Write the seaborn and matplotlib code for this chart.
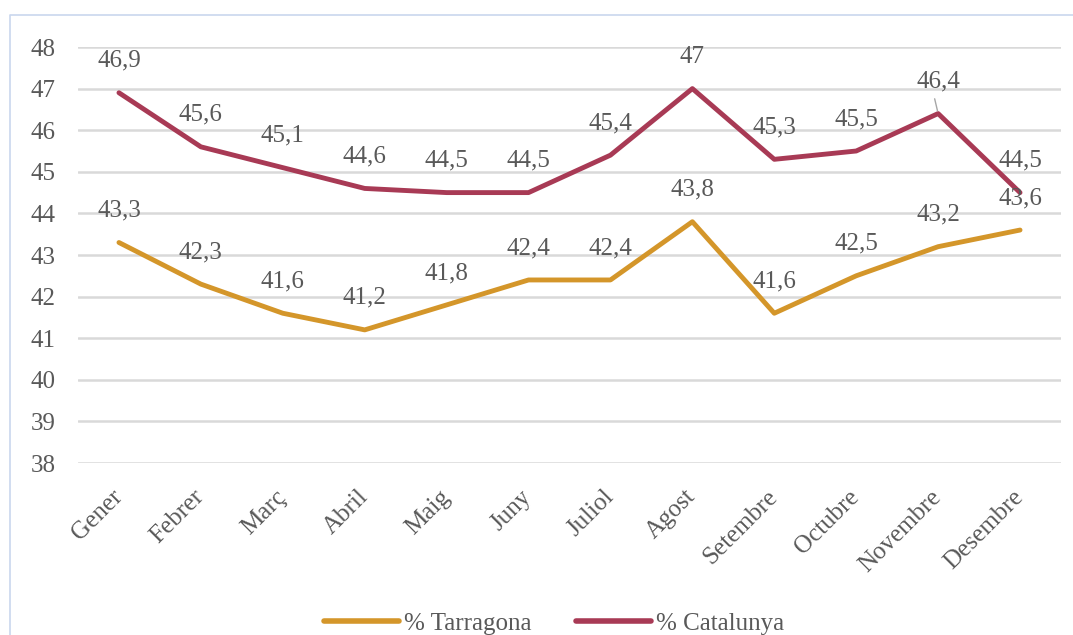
import pandas as pd
import seaborn as sns
import matplotlib.pyplot as plt
from matplotlib.lines import Line2D

# Dades
mesos = ['Gener', 'Febrer', 'Març', 'Abril', 'Maig', 'Juny', 'Juliol',
         'Agost', 'Setembre', 'Octubre', 'Novembre', 'Desembre']
tarragona = [43.3, 42.3, 41.6, 41.2, 41.8, 42.4, 42.4, 43.8, 41.6, 42.5, 43.2, 43.6]
catalunya = [46.9, 45.6, 45.1, 44.6, 44.5, 44.5, 45.4, 47.0, 45.3, 45.5, 46.4, 44.5]
series = ['% Tarragona', '% Catalunya']
colors = ['#D4962A', '#A83A55']

df = pd.DataFrame({'mes': mesos * 2,
                   'valor': tarragona + catalunya,
                   'serie': [series[0]] * 12 + [series[1]] * 12})

sns.set_theme(style='white')
plt.rcParams['font.family'] = ['Liberation Serif', 'DejaVu Serif']
txt = '#595959'
fs = 18

fig = plt.figure(figsize=(10.73, 6.35), dpi=100)
ax = fig.add_axes([78 / 1073, 1 - 463 / 635, (1061 - 78) / 1073, (463 - 47) / 635])

# marc del gràfic (només vores esquerra i superior visibles)
x0, y0 = 10 / 1073, 1 - 15 / 635
fig.lines.append(Line2D([x0, x0, 1.05], [-0.05, y0, y0], transform=fig.transFigure,
                        color='#C9D7EE', linewidth=1.2))

sns.lineplot(data=df, x='mes', y='valor', hue='serie', palette=colors,
             linewidth=3.5, sort=False, ax=ax, legend=True)

ax.set_ylim(38, 48)
ax.set_xlim(-0.5, 11.5)
ax.set_yticks(range(38, 49))
ax.yaxis.grid(True, color='#D9D9D9', linewidth=1.8)
ax.set_axisbelow(True)
for s in ax.spines.values():
    s.set_visible(False)
ax.set_xlabel('')
ax.set_ylabel('')
ax.tick_params(axis='y', length=0, pad=16, labelsize=fs, labelcolor=txt)
ax.tick_params(axis='x', length=0, pad=22, labelsize=fs, labelcolor=txt)
for lab in ax.get_xticklabels():
    lab.set_rotation(45)
    lab.set_ha('right')
    lab.set_va('center')
    lab.set_rotation_mode('anchor')

# etiquetes de dades
for vals in (tarragona, catalunya):
    for i, v in enumerate(vals):
        s = ('%g' % v).replace('.', ',')
        ax.annotate(s, (i, v), xytext=(0, 23), textcoords='offset points',
                    ha='center', va='center', fontsize=fs, color=txt)

# línia guia per Novembre (Catalunya)
ax.annotate('', (10, catalunya[10]), xytext=(10 - 0.05, catalunya[10] + 0.42),
            arrowprops=dict(arrowstyle='-', color='#A6A6A6', lw=1))

leg = ax.legend(loc='lower center', bbox_to_anchor=(554 / 1073, -0.02),
                bbox_transform=fig.transFigure, ncol=2, frameon=False,
                fontsize=fs, handlelength=3.0, handletextpad=0.2,
                columnspacing=1.8, borderaxespad=0.1)
for t in leg.get_texts():
    t.set_color(txt)
for ln in leg.get_lines():
    ln.set_linewidth(4)

fig.savefig('out.png', dpi=100)
